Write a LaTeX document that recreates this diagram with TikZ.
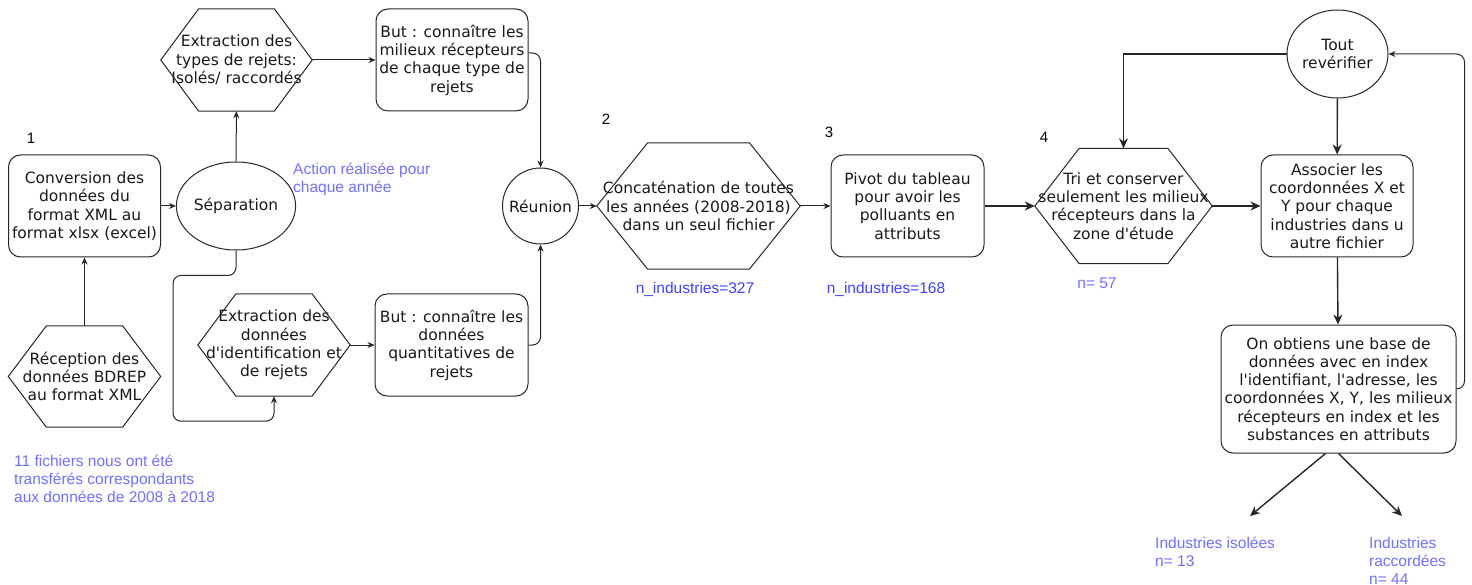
\documentclass[tikz,border=0pt]{standalone}
\usepackage{fontspec}
\setmainfont{DejaVu Sans}[Ligatures=TeXOff]
\newfontfamily\notefont{Liberation Sans}
\usepackage{xcolor}
\usepackage{tikz}
\usetikzlibrary{arrows.meta,positioning,shapes.geometric,calc}
\definecolor{notecol}{RGB}{112,112,255}
\definecolor{countcol}{RGB}{64,64,255}

\begin{document}
\begin{tikzpicture}[
  x=1pt, y=-1pt,
  txt/.style={font=\fontsize{15.5}{18.3}\selectfont, align=center, inner sep=0pt, text=black!90},
  box/.style={txt, rectangle, rounded corners=12pt, draw=black!85, line width=1pt, minimum width=152pt, minimum height=102pt},
  hexa/.style={txt, rectangle, minimum width=152pt, minimum height=102pt},
  oval/.style={txt, ellipse, draw=black!85, line width=1pt},
  note/.style={font=\notefont\fontsize{15.5}{18}\selectfont, text=notecol, align=left, inner sep=0pt},
  count/.style={note, text=countcol},
  num/.style={font=\notefont\fontsize{15}{18}\selectfont, inner sep=0pt},
  arrow/.style={-{Stealth[length=7pt,width=6pt]}, line width=1pt, draw=black!85},
  barrow/.style={-{Stealth[length=10pt,width=9pt]}, line width=1.4pt, draw=black!85}
]
\useasboundingbox (0,0) rectangle (1472,585);

% step 1 : reception and conversion
\node[num] (n1) at (31,138) {1};
\node[box] (conv) at (84.5,206) {Conversion des\\données du\\format XML au\\format xlsx (excel)};
\node[hexa, minimum height=101pt] (recep) at (84.5,376.5) {Réception des\\données BDREP\\au format XML};
\node[note, anchor=west] (fichiers) at (14,479) {11 fichiers nous ont été\\transférés correspondants\\aux données de 2008 à 2018};

% separation per year
\node[oval, minimum width=102pt, minimum height=88pt] (sep) at (236,206) {Séparation};
\node[note, anchor=west] (action) at (293,179) {Action réalisée pour\\chaque année};
\node[hexa, minimum width=151pt] (extypes) at (236.5,60) {Extraction des\\types de rejets:\\Isolés/ raccordés};
\node[box] (butmilieux) at (452,60) {But : connaître les\\milieux récepteurs\\de chaque type de\\rejets};
\node[hexa] (exdonnees) at (274,345) {Extraction des\\données\\d'identification et\\de rejets};
\node[box, minimum width=153pt] (butquanti) at (451.5,345) {But : connaître les\\données\\quantitatives de\\rejets};
\node[txt, circle, draw=black!85, line width=1pt, minimum size=76pt] (reunion) at (540.5,206) {Réunion};

% step 2 and 3
\node[num] (n2) at (606,119) {2};
\node[hexa, minimum width=203pt, minimum height=126pt] (concat) at (698.5,206) {Concaténation de toutes\\les années (2008-2018)\\dans un seul fichier};
\node[count] (c327) at (695,289) {n\_industries=327};
\node[num] (n3) at (829,132) {3};
\node[box, minimum width=153pt] (pivot) at (907.5,206) {Pivot du tableau\\pour avoir les\\polluants en\\attributs};
\node[count] (c168) at (886,289) {n\_industries=168};

% step 4
\node[num] (n4) at (1044,137) {4};
\node[hexa, minimum width=177pt, minimum height=115pt] (tri) at (1123.5,206) {Tri et conserver\\seulement les milieux\\récepteurs dans la\\zone d'étude};
\node[note] (c57) at (1097,283) {n= 57};
\node[oval, minimum width=101pt, minimum height=88pt] (tout) at (1337.5,54) {Tout\\revérifier};
\node[box] (assoc) at (1337,206) {Associer les\\coordonnées X et\\Y pour chaque\\industries dans u\\autre fichier};
\node[box, minimum width=235pt, minimum height=128pt] (base) at (1338.5,389) {On obtiens une base de\\données avec en index\\l'identifiant, l'adresse, les\\coordonnées X, Y, les milieux\\récepteurs en index et les\\substances en attributs};
\coordinate (isol) at (1250,516);
\coordinate (racc) at (1402,516);
\node[note, anchor=west] (isolees) at (1155,552) {Industries isolées\\n= 13};
\node[note, anchor=west] (raccordees) at (1369,561) {Industries\\raccordées\\n= 44};

% hexagon outlines
\foreach \h in {recep,extypes,exdonnees,concat,tri}
  \draw[line width=1pt, draw=black!85] (\h.west)
    -- ($(\h.north west)!0.25!(\h.north east)$) -- ($(\h.north west)!0.75!(\h.north east)$)
    -- (\h.east)
    -- ($(\h.south west)!0.75!(\h.south east)$) -- ($(\h.south west)!0.25!(\h.south east)$)
    -- cycle;

% connectors
\draw[arrow] (recep) -- (conv);
\draw[arrow] (conv) -- (sep);
\draw[arrow] (sep) -- (extypes);
\draw[arrow] (extypes) -- (butmilieux);
\draw[arrow, rounded corners=8pt] ([yshift=7pt]butmilieux.east) -| (reunion.north);
\draw[arrow, rounded corners=8pt] (sep.south) -- ++(0,25) -- ++(-63,0) |- ([yshift=-25pt]exdonnees.south) -- (exdonnees.south);
\draw[arrow] (exdonnees) -- (butquanti);
\draw[arrow, rounded corners=8pt] (butquanti.east) -| (reunion.south);
\draw[arrow] (reunion) -- (concat);
\draw[arrow] (concat) -- (pivot);
\draw[barrow] (pivot) -- (tri);
\draw[barrow] (tri) -- (assoc);
\draw[barrow] (tout.west) -| (tri.north);
\draw[barrow] (tout) -- (assoc);
\draw[barrow] (assoc) -- (base);
\draw[arrow, rounded corners=8pt] (base.east) -- ++(8,0) |- (tout.east);
\draw[barrow] ([xshift=-13pt]base.south) -- (isol);
\draw[barrow] (base.south) -- (racc);

\end{tikzpicture}
\end{document}
